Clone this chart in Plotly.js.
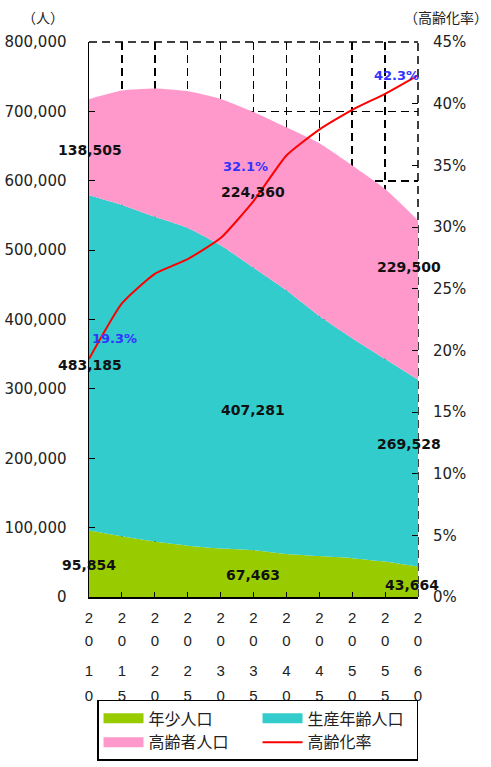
<!DOCTYPE html>
<html>
<head>
<meta charset="utf-8">
<script src="https://cdn.plot.ly/plotly-3.0.1.min.js"></script>
<style>html,body{margin:0;padding:0;background:#fff;}#chart{width:491px;height:767px;}</style>
</head>
<body>
<div id="chart"></div>
<script>
// ---- data ----
const years = [2010, 2015, 2020, 2025, 2030, 2035, 2040, 2045, 2050, 2055, 2060];
const yearLabels = ['2010', '2015', '2020', '2025', '2030', '2035', '2040', '2045', '2050', '2055', '2060'];
const young = [95854, 87500, 80000, 74000, 70000, 67463, 62000, 59000, 56000, 51000, 43664];
const working = [483185, 477500, 468000, 458000, 437000, 407281, 380000, 346000, 317000, 292000, 269528];
const elderly = [138505, 165000, 185000, 197000, 211000, 224360, 235000, 249000, 249000, 245000, 229500];
const agingRate = [19.3, 23.8, 26.2, 27.4, 29.1, 32.1, 35.8, 37.9, 39.5, 40.8, 42.3];
const seriesNames = ['年少人口', '生産年齢人口', '高齢者人口', '高齢化率'];
const leftUnit = '（人）';
const rightUnit = '（高齢化率）';

// ---- style ----
const C_YOUNG = '#99CC00', C_WORK = '#33CCCC', C_OLD = '#FF99CC', C_RATE = '#FF0000';
const NUMFONT = 'DejaVu Sans, Arial, sans-serif';
const CJK = 'Noto Sans CJK JP, sans-serif';
const DIGITFONT = {family: 'Liberation Sans, Arial, sans-serif', size: 15, color: '#222'};

const fmt = v => v.toLocaleString('en-US');

const traces = [
  {x: years, y: young, type: 'scatter', mode: 'lines', stackgroup: 'pop', name: seriesNames[0],
   line: {width: 0, shape: 'spline', smoothing: 0.6}, fillcolor: C_YOUNG, showlegend: false, hoverinfo: 'skip'},
  {x: years, y: working, type: 'scatter', mode: 'lines', stackgroup: 'pop', name: seriesNames[1],
   line: {width: 0, shape: 'spline', smoothing: 0.6}, fillcolor: C_WORK, showlegend: false, hoverinfo: 'skip'},
  {x: years, y: elderly, type: 'scatter', mode: 'lines', stackgroup: 'pop', name: seriesNames[2],
   line: {width: 0, shape: 'spline', smoothing: 0.6}, fillcolor: C_OLD, showlegend: false, hoverinfo: 'skip'},
  {x: years, y: agingRate, type: 'scatter', mode: 'lines', yaxis: 'y2', name: seriesNames[3],
   line: {color: C_RATE, width: 2, shape: 'spline', smoothing: 0.5}, legendrank: 4},
  // legend keys for the areas
  {x: [null], y: [null], type: 'scatter', mode: 'lines', name: seriesNames[0], line: {color: C_YOUNG, width: 12}, legendrank: 1},
  {x: [null], y: [null], type: 'scatter', mode: 'lines', name: seriesNames[1], line: {color: C_WORK, width: 12}, legendrank: 2},
  {x: [null], y: [null], type: 'scatter', mode: 'lines', name: seriesNames[2], line: {color: C_OLD, width: 12}, legendrank: 3}
];
// invisible carriers so the digit-row axes get drawn
['x2', 'x3', 'x4'].forEach(ax => traces.push({x: years, y: young, type: 'scatter', mode: 'none',
  xaxis: ax, yaxis: 'y', showlegend: false, hoverinfo: 'skip'}));

// year labels written vertically: one overlaying axis per digit row
const digitAxis = (k, standoff) => ({
  overlaying: 'x', matches: 'x', anchor: 'y', side: 'bottom',
  tickmode: 'array', tickvals: years, ticktext: yearLabels.map(s => s[k]),
  showgrid: false, showline: false, zeroline: false, ticks: '',
  ticklabelstandoff: standoff, tickfont: DIGITFONT
});

const labelFont = {family: NUMFONT, size: 14, color: '#111', weight: 'bold'};
const rateFont = {family: NUMFONT, size: 13, color: '#3333FF', weight: 'bold'};
const ann = (i, arr, y, xshift) => ({x: years[i], y: y, xref: 'x', yref: 'y', xshift: xshift,
  text: fmt(arr[i]), showarrow: false, font: labelFont});
const annR = (i, y, xshift) => ({x: years[i], y: y, xref: 'x', yref: 'y2', xshift: xshift,
  text: agingRate[i].toFixed(1) + '%', showarrow: false, font: rateFont});

const annotations = [
  ann(0, elderly, 644000, 1), ann(0, working, 334000, 1), ann(0, young, 46000, 0),
  ann(5, elderly, 583600, -1), ann(5, working, 269500, -1), ann(5, young, 31700, -1),
  ann(10, elderly, 475500, -9), ann(10, working, 220500, -9), ann(10, young, 17300, -6),
  annR(0, 21.0, 25), annR(5, 34.9, -8), annR(10, 42.25, -22),
  {x: 0.0, y: 1.0, xref: 'paper', yref: 'paper', xanchor: 'center', yanchor: 'middle', xshift: -46, yshift: 25,
   text: leftUnit, showarrow: false, font: {family: CJK, size: 14, color: '#222'}},
  {x: 1.0, y: 1.0, xref: 'paper', yref: 'paper', xanchor: 'center', yanchor: 'middle', xshift: 28, yshift: 25,
   text: rightUnit, showarrow: false, font: {family: CJK, size: 14, color: '#222'}}
];

const DASH = '8px,5px';
const gridStyle = {showgrid: true, gridcolor: '#000', gridwidth: 1.5, griddash: DASH};

// dashed frame on the top and right edges (behind the areas, like the gridlines)
const shapes = [
  {type: 'line', xref: 'paper', yref: 'paper', x0: 0, x1: 1, y0: 1, y1: 1, layer: 'below',
   line: {color: '#000', width: 1.5, dash: DASH}},
  {type: 'line', xref: 'paper', yref: 'paper', x0: 1, x1: 1, y0: 0, y1: 1, layer: 'below',
   line: {color: '#000', width: 1.5, dash: DASH}}
];

const layout = {
  width: 491, height: 767,
  margin: {l: 89, r: 73, t: 42, b: 170},
  paper_bgcolor: '#fff', plot_bgcolor: '#fff',
  showlegend: true,
  xaxis: Object.assign({
    range: [2010, 2060], tickmode: 'array', tickvals: years, ticktext: yearLabels.map(s => s[0]),
    showline: true, linecolor: '#000', linewidth: 1.5, zeroline: false,
    ticks: 'inside', ticklen: 5, tickcolor: '#000', tickwidth: 1,
    ticklabelstandoff: 6, tickfont: DIGITFONT
  }, gridStyle),
  xaxis2: digitAxis(1, 33),
  xaxis3: digitAxis(2, 63),
  xaxis4: digitAxis(3, 88),
  yaxis: Object.assign({
    range: [0, 800000], dtick: 100000, tickformat: ',d',
    showline: true, linecolor: '#000', linewidth: 1.5, zeroline: false,
    ticks: 'inside', ticklen: 6, tickcolor: '#000', tickwidth: 1,
    ticklabelstandoff: 18,
    tickfont: {family: NUMFONT, size: 15, color: '#222'}
  }, gridStyle),
  yaxis2: {
    overlaying: 'y', side: 'right', range: [0, 45], dtick: 5, ticksuffix: '%',
    showgrid: false, zeroline: false, showline: false,
    ticks: 'inside', ticklen: 6, tickcolor: '#000', tickwidth: 1,
    ticklabelstandoff: 14,
    tickfont: {family: NUMFONT, size: 15, color: '#222'}
  },
  legend: {
    orientation: 'h', xref: 'container', yref: 'container',
    x: 0.1976, xanchor: 'left', y: 0.0874, yanchor: 'top',
    bordercolor: '#000', borderwidth: 1.5, bgcolor: '#fff',
    itemwidth: 40, entrywidth: 104, entrywidthmode: 'pixels',
    traceorder: 'normal',
    font: {family: CJK, size: 16, color: '#222'}
  },
  shapes: shapes,
  annotations: annotations
};

Plotly.newPlot('chart', traces, layout, {staticPlot: true});
</script>
</body>
</html>
